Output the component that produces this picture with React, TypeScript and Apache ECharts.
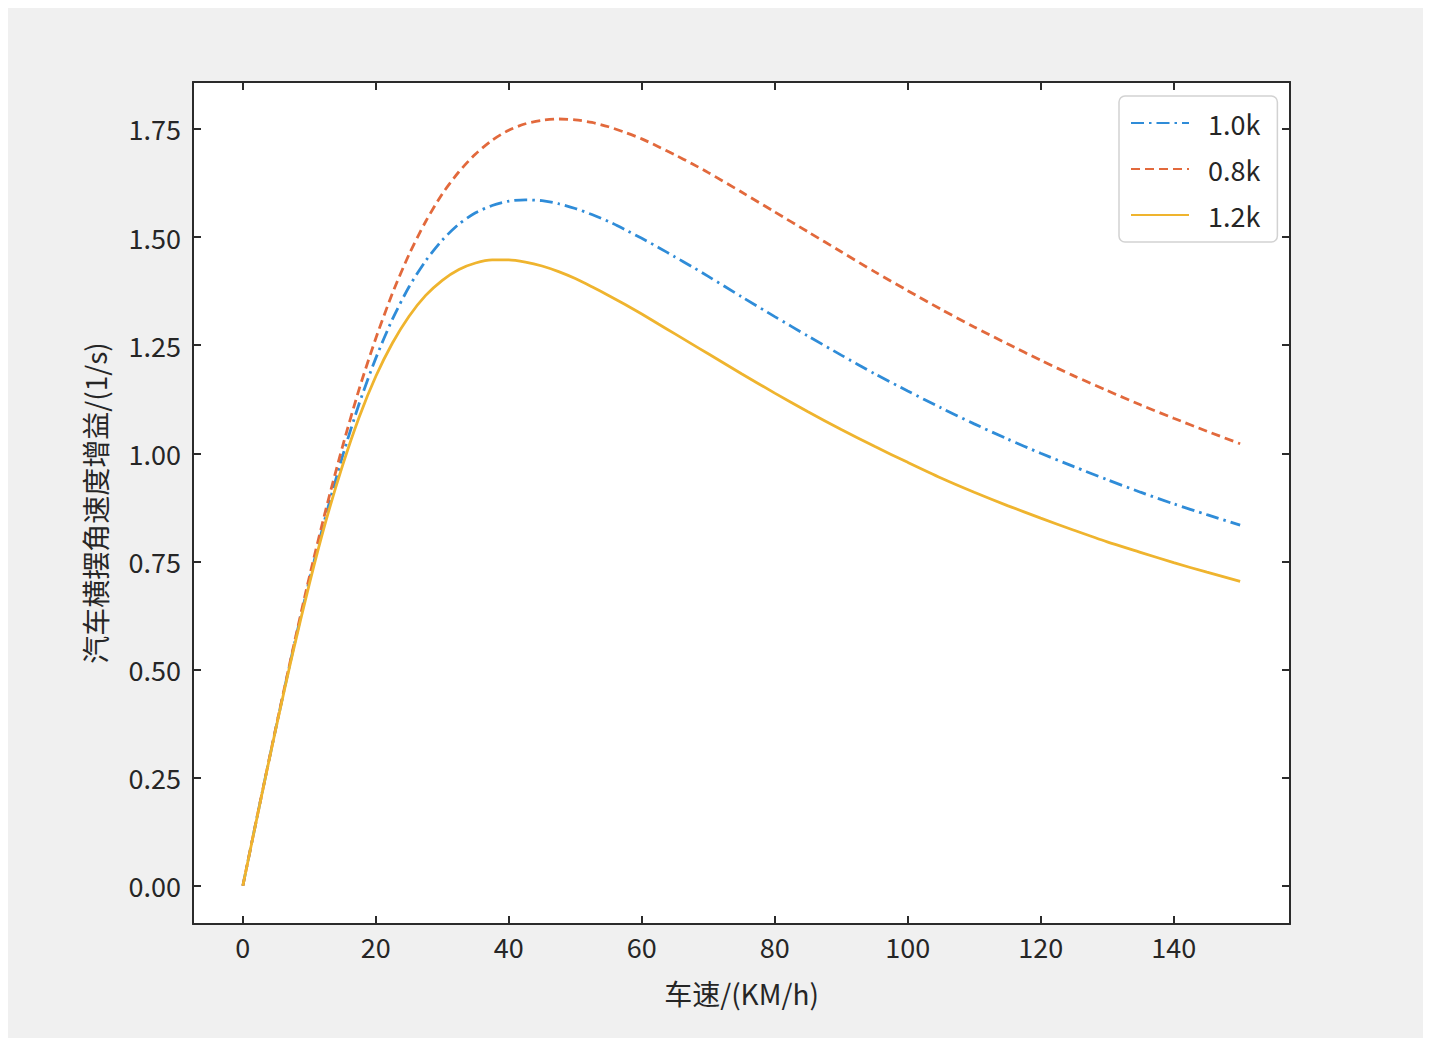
import React, { useEffect, useRef } from "react";
import * as echarts from "echarts";

const speeds = [0, 2.5, 5, 7.5, 10, 12.5, 15, 17.5, 20, 22.5, 25, 27.5, 30, 32.5, 35, 37.5, 40, 42.5, 45, 47.5, 50, 52.5, 55, 57.5, 60, 62.5, 65, 67.5, 70, 75, 80, 85, 90, 95, 100, 105, 110, 115, 120, 125, 130, 135, 140, 145, 150];

const gain10k = [0, 0.186, 0.367, 0.542, 0.706, 0.857, 0.994, 1.115, 1.22, 1.31, 1.385, 1.445, 1.493, 1.53, 1.556, 1.573, 1.583, 1.586, 1.584, 1.577, 1.566, 1.552, 1.536, 1.517, 1.497, 1.476, 1.454, 1.432, 1.409, 1.362, 1.316, 1.271, 1.227, 1.184, 1.144, 1.105, 1.068, 1.033, 1.0, 0.969, 0.939, 0.91, 0.883, 0.858, 0.834];
const gain08k = [0, 0.186, 0.368, 0.545, 0.714, 0.871, 1.016, 1.149, 1.266, 1.37, 1.46, 1.536, 1.6, 1.651, 1.692, 1.724, 1.747, 1.762, 1.77, 1.773, 1.771, 1.765, 1.755, 1.742, 1.727, 1.709, 1.69, 1.67, 1.649, 1.604, 1.558, 1.512, 1.466, 1.42, 1.376, 1.333, 1.292, 1.253, 1.215, 1.179, 1.145, 1.112, 1.081, 1.051, 1.022];
const gain12k = [0, 0.185, 0.366, 0.538, 0.698, 0.844, 0.972, 1.084, 1.178, 1.255, 1.317, 1.365, 1.4, 1.425, 1.44, 1.447, 1.447, 1.442, 1.433, 1.42, 1.404, 1.385, 1.365, 1.344, 1.322, 1.299, 1.276, 1.253, 1.23, 1.184, 1.139, 1.096, 1.055, 1.016, 0.979, 0.943, 0.91, 0.879, 0.85, 0.822, 0.795, 0.771, 0.747, 0.725, 0.704];

const seriesNames = ["1.0k", "0.8k", "1.2k"];
const xTicks = [0, 20, 40, 60, 80, 100, 120, 140];
const yTicks = [0, 0.25, 0.5, 0.75, 1.0, 1.25, 1.5, 1.75];

const FONT = "'Noto Sans CJK SC', 'Noto Sans', sans-serif";
const AXIS_COLOR = "#2b2b2b";
const TEXT_COLOR = "#262626";

export default function App() {
  const ref = useRef<HTMLDivElement>(null);
  useEffect(() => {
    if (!ref.current) return;
    const chart = echarts.init(ref.current, null, { renderer: "svg" });
    const pairs = (ys: number[]) => speeds.map((x, i) => [x, ys[i]]);
    const axisCommon = {
      axisLine: { show: true, onZero: false, lineStyle: { color: AXIS_COLOR, width: 2 } },
      splitLine: { show: false },
    };
    const tickStyle = (vals: number[]) => ({
      show: true,
      inside: true,
      length: 8,
      customValues: vals,
      lineStyle: { color: AXIS_COLOR, width: 2 },
    });
    chart.setOption({
      animation: false,
      backgroundColor: "#f0f0f0",
      textStyle: { fontFamily: FONT },
      grid: { left: 185, top: 74, width: 1097, height: 842, show: true, backgroundColor: "#ffffff", borderWidth: 0 },
      legend: {
        data: seriesNames,
        orient: "vertical",
        left: 1111,
        top: 88,
        backgroundColor: "#ffffff",
        borderColor: "#d2d2d2",
        borderWidth: 1.5,
        borderRadius: 6,
        padding: [12, 17, 12, 11],
        itemWidth: 58,
        itemHeight: 20,
        itemGap: 16,
        itemStyle: { color: "transparent", borderColor: "transparent", borderWidth: 0, opacity: 0 },
        textStyle: { fontFamily: FONT, fontSize: 27, color: TEXT_COLOR, lineHeight: 30, padding: [0, 0, 0, 14] },
      },
      xAxis: [
        {
          type: "value",
          min: -7.5,
          max: 157.5,
          position: "bottom",
          ...axisCommon,
          axisTick: tickStyle(xTicks),
          axisLabel: { show: true, customValues: xTicks, fontSize: 27, color: TEXT_COLOR, fontFamily: FONT, margin: 9 },
          name: "车速/(KM/h)",
          nameLocation: "middle",
          nameGap: 55,
          nameTextStyle: { fontSize: 28, color: TEXT_COLOR, fontFamily: FONT },
        },
        {
          type: "value",
          min: -7.5,
          max: 157.5,
          position: "top",
          ...axisCommon,
          axisTick: tickStyle(xTicks),
          axisLabel: { show: false },
        },
      ],
      yAxis: [
        {
          type: "value",
          min: -0.0885,
          max: 1.8585,
          position: "left",
          ...axisCommon,
          axisTick: tickStyle(yTicks),
          axisLabel: {
            show: true,
            customValues: yTicks,
            fontSize: 27,
            color: TEXT_COLOR,
            fontFamily: FONT,
            margin: 12,
            formatter: (v: number) => v.toFixed(2),
          },
          name: "汽车横摆角速度增益/(1/s)",
          nameLocation: "middle",
          nameGap: 84,
          nameRotate: 90,
          nameTextStyle: { fontSize: 28, color: TEXT_COLOR, fontFamily: FONT },
        },
        {
          type: "value",
          min: -0.0885,
          max: 1.8585,
          position: "right",
          ...axisCommon,
          axisTick: tickStyle(yTicks),
          axisLabel: { show: false },
        },
      ],
      series: [
        {
          name: seriesNames[0],
          type: "line",
          data: pairs(gain10k),
          smooth: 0.25,
          showSymbol: false,
          symbol: "none",
          lineStyle: { color: "#2f8cd8", width: 2.8, type: [13, 5, 2.5, 5] },
          itemStyle: { color: "#2f8cd8" },
        },
        {
          name: seriesNames[1],
          type: "line",
          data: pairs(gain08k),
          smooth: 0.25,
          showSymbol: false,
          symbol: "none",
          lineStyle: { color: "#e2693c", width: 2.8, type: [9, 5] },
          itemStyle: { color: "#e2693c" },
        },
        {
          name: seriesNames[2],
          type: "line",
          data: pairs(gain12k),
          smooth: 0.25,
          showSymbol: false,
          symbol: "none",
          lineStyle: { color: "#efb42e", width: 2.8 },
          itemStyle: { color: "#efb42e" },
        },
      ],
    });
    return () => chart.dispose();
  }, []);
  return <div ref={ref} style={{ width: 1415, height: 1030 }} />;
}
